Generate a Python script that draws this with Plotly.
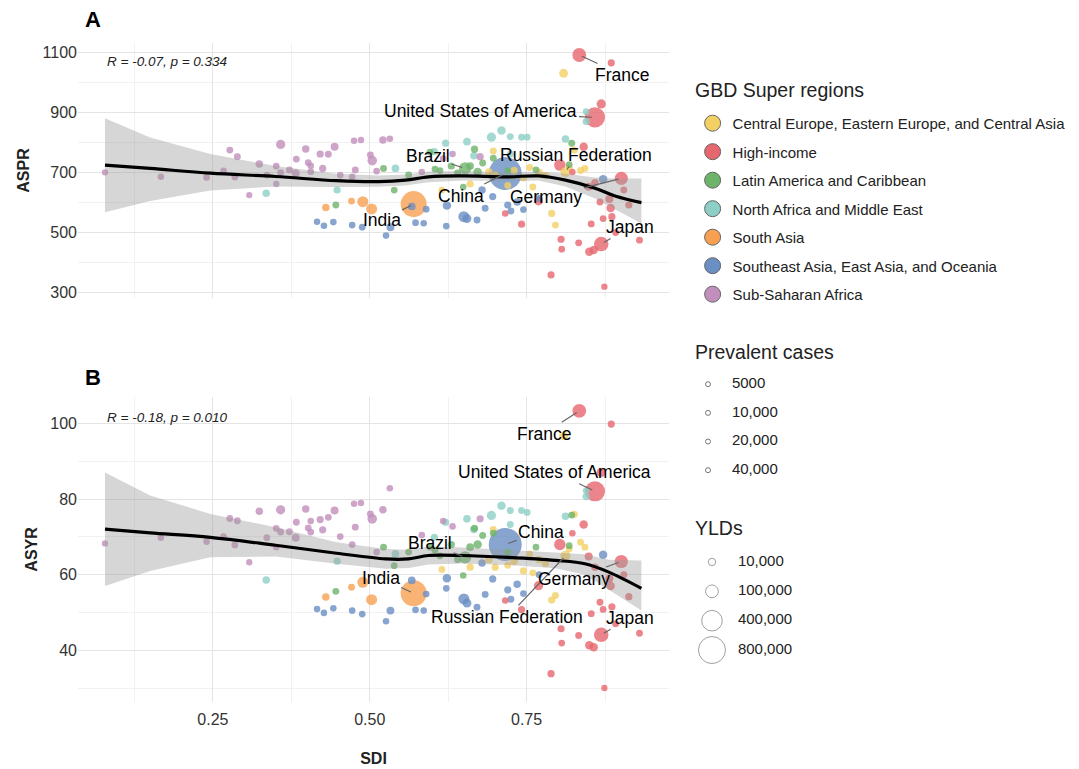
import numpy as np
import plotly.graph_objects as go

# ---------------- data ----------------
regions = ["Central Europe, Eastern Europe, and Central Asia", "High-income",
           "Latin America and Caribbean", "North Africa and Middle East",
           "South Asia", "Southeast Asia, East Asia, and Oceania", "Sub-Saharan Africa"]
region_colors = ["#F2D064", "#E7676E", "#6DB36A", "#8DCFC7", "#F7A052", "#6A8FC4", "#C28FBC"]

# Sub-Saharan Africa (6)
ss_sdi  = [0.078, 0.167, 0.240, 0.267, 0.285, 0.277, 0.289, 0.308, 0.324, 0.336, 0.351, 0.351, 0.358, 0.358,
           0.372, 0.382, 0.383, 0.398, 0.402, 0.406, 0.406, 0.421, 0.425, 0.434, 0.444, 0.453, 0.472, 0.475,
           0.477, 0.486, 0.501, 0.504, 0.511, 0.521, 0.532, 0.583, 0.617, 0.632, 0.676]
ss_aspr = [699, 684, 682, 704, 683, 773, 751, 623, 727, 690, 720, 660, 792, 698, 707, 696, 743, 777, 731, 721,
           701, 760, 712, 759, 784, 690, 684, 804, 707, 807, 757, 738, 703, 807, 811, 700, 745, 760, 751]
ss_asyr = [68.3, 69.8, 68.8, 70.1, 67.9, 74.9, 74.3, 63.3, 76.8, 69.8, 72.3, 67.3, 77.2, 71.3, 71.4, 69.8, 73.9,
           77.4, 72.4, 74.2, 71.3, 74.6, 71.9, 75.2, 77.0, 70.1, 68.0, 78.8, 72.6, 79.0, 76.1, 74.8, 66.0, 77.2,
           82.9, 70.5, 74.2, 72.8, 74.8]
ss_yld  = [3, 4, 5, 4, 5, 6, 6, 3, 10, 5, 5, 3, 30, 6, 6, 14, 6, 10, 5, 4, 5, 8, 8, 6, 14, 5, 5, 4, 6, 4, 6, 35,
           5, 10, 4, 4, 4, 4, 8]

# North Africa and Middle East (3)
na_sdi  = [0.335, 0.448, 0.541, 0.603, 0.621, 0.655, 0.666, 0.694, 0.710, 0.724, 0.742, 0.751, 0.724, 0.812, 0.845, 0.845]
na_aspr = [629, 640, 712, 768, 796, 801, 754, 816, 838, 818, 816, 816, 760, 810, 901, 868]
na_asyr = [58.6, 63.6, 65.5, 69.9, 73.9, 74.8, 72.0, 75.7, 78.3, 77.0, 77.0, 76.5, 73.3, 75.5, 82.3, 80.7]
na_yld  = [10, 8, 12, 8, 8, 12, 10, 30, 20, 6, 6, 5, 6, 10, 5, 8]

# Latin America and Caribbean (2)
la_sdi  = [0.446, 0.522, 0.539, 0.562, 0.596, 0.612, 0.630, 0.640, 0.652, 0.660, 0.667, 0.672, 0.649, 0.680,
           0.697, 0.765, 0.822, 0.818, 0.720, 0.604]
la_aspr = [590, 712, 640, 690, 766, 705, 720, 697, 712, 720, 776, 700, 650, 730, 746, 707, 796, 725, 705, 710]
la_asyr = [55.6, 67.3, 62.4, 66.0, 67.3, 65.0, 68.0, 64.0, 64.6, 67.3, 72.3, 68.0, 59.8, 70.4, 71.0, 67.3, 75.8,
           67.7, 66.0, 66.5]
la_yld  = [6, 6, 5, 6, 6, 5, 8, 6, 90, 12, 8, 20, 4, 6, 6, 5, 6, 5, 5, 5]

# South Asia (4)
sa_sdi  = [0.430, 0.471, 0.489, 0.503, 0.570]
sa_aspr = [582, 603, 601, 577, 593]
sa_asyr = [54.1, 56.7, 58.0, 53.4, 55.1]
sa_yld  = [10, 6, 60, 60, 730]

# Southeast Asia, East Asia, and Oceania (5)
se_sdi  = [0.416, 0.427, 0.442, 0.472, 0.488, 0.526, 0.533, 0.567, 0.573, 0.586, 0.590, 0.622, 0.623, 0.650,
           0.655, 0.671, 0.684, 0.696, 0.679, 0.716, 0.720, 0.725, 0.735, 0.745, 0.872, 0.770]
se_aspr = [534, 521, 533, 523, 516, 488, 516, 585, 531, 529, 576, 520, 588, 551, 545, 540, 579, 618, 640, 695,
           590, 570, 600, 575, 676, 612]
se_asyr = [50.9, 49.9, 51.1, 50.5, 49.6, 47.7, 50.5, 58.5, 50.7, 50.5, 54.9, 56.4, 59.1, 53.6, 52.5, 51.4, 54.8,
           58.9, 63.1, 68.0, 56.0, 53.5, 57.5, 55.0, 65.3, 60.0]
se_yld  = [4, 4, 4, 5, 5, 4, 14, 12, 5, 4, 5, 5, 20, 60, 25, 6, 6, 8, 10, 1300, 8, 6, 10, 5, 20, 5]

# High-income (1)
hi_sdi  = [0.834, 0.885, 0.869, 0.859, 0.841, 0.823, 0.803, 0.849, 0.859, 0.901, 0.882, 0.884, 0.913, 0.867,
           0.886, 0.872, 0.853, 0.805, 0.833, 0.806, 0.850, 0.857, 0.869, 0.930, 0.892, 0.789, 0.874, 0.769,
           0.742, 0.716, 0.905]
hi_aspr = [1090, 1064, 927, 882, 784, 700, 723, 651, 664, 679, 610, 580, 590, 600, 551, 545, 527, 476, 464, 443,
           434, 440, 460, 473, 498, 357, 318, 604, 526, 562, 640]
hi_asyr = [103.4, 99.9, 87.1, 82.1, 73.3, 71.0, 68.0, 64.8, 62.0, 63.5, 59.0, 57.0, 54.2, 52.7, 51.5, 50.8, 49.7,
           45.7, 43.9, 41.9, 41.3, 40.8, 44.1, 44.5, 47.0, 33.8, 30.0, 57.1, 50.8, 53.2, 60.0]
hi_yld  = [130, 8, 30, 380, 20, 4, 70, 15, 10, 110, 15, 20, 8, 6, 8, 5, 6, 8, 6, 5, 20, 20, 150, 6, 6, 8, 3, 30,
           8, 4, 6]

# Central Europe, Eastern Europe, and Central Asia (0)
ce_sdi  = [0.809, 0.826, 0.697, 0.615, 0.660, 0.690, 0.700, 0.730, 0.745, 0.755, 0.770, 0.780, 0.790, 0.796,
           0.812, 0.818, 0.836, 0.843, 0.760, 0.720]
ce_aspr = [1029, 773, 770, 640, 660, 700, 690, 705, 680, 715, 700, 688, 562, 523, 700, 715, 705, 712, 650, 655]
ce_asyr = [96.8, 76.0, 72.0, 61.4, 62.0, 64.0, 62.0, 63.5, 61.0, 65.5, 64.0, 63.0, 53.3, 54.5, 65.0, 66.9, 68.6,
           67.3, 60.5, 62.5]
ce_yld  = [25, 8, 6, 5, 8, 10, 8, 10, 8, 6, 8, 10, 8, 6, 45, 6, 6, 6, 6, 6]

# labelled countries
lab_names = ["France", "United States of America", "Brazil", "Russian Federation", "China",
             "Germany", "India", "Japan"]
lab_sdi   = [0.834, 0.859, 0.652, 0.812, 0.716, 0.901, 0.570, 0.869]
lab_aspr  = [1090, 882, 712, 700, 695, 679, 593, 460]
lab_asyr  = [103.4, 82.1, 64.6, 65.0, 68.0, 63.5, 55.1, 44.1]

# loess smooth with 95% CI
smA_x  = [0.078, 0.15, 0.246, 0.35, 0.447, 0.514, 0.557, 0.594, 0.647, 0.721, 0.769, 0.812, 0.859, 0.891, 0.933]
smA_y  = [723, 712, 696, 685, 671, 668, 673, 684, 687, 684, 687, 673, 646, 620, 598]
smA_lo = [566, 603, 638, 652, 650, 651, 655, 666, 672, 670, 672, 652, 612, 575, 528]
smA_hi = [879, 815, 760, 720, 694, 688, 692, 702, 703, 698, 702, 694, 682, 678, 678]
smB_x  = [0.078, 0.15, 0.246, 0.35, 0.447, 0.525, 0.562, 0.594, 0.647, 0.721, 0.796, 0.843, 0.881, 0.933]
smB_y  = [72.1, 71.1, 69.9, 67.8, 65.7, 64.2, 64.2, 65.1, 65.1, 64.6, 63.8, 62.9, 60.7, 56.4]
smB_lo = [57.0, 61.0, 64.6, 64.8, 62.9, 61.6, 61.8, 62.7, 63.0, 62.6, 61.7, 60.0, 56.0, 50.5]
smB_hi = [87.1, 81.0, 76.1, 72.6, 68.6, 66.8, 66.6, 67.5, 67.2, 66.6, 65.9, 65.4, 64.0, 63.8]

cor_text = ["R = -0.07, p = 0.334", "R = -0.18, p = 0.010"]
prev_labels = ["5000", "10,000", "20,000", "40,000"]
yld_labels = ["10,000", "100,000", "400,000", "800,000"]
yld_legend = [10, 100, 400, 800]   # thousands

# ---------------- assemble ----------------
groups = [(ce_sdi, ce_aspr, ce_asyr, ce_yld, 0), (hi_sdi, hi_aspr, hi_asyr, hi_yld, 1),
          (la_sdi, la_aspr, la_asyr, la_yld, 2), (na_sdi, na_aspr, na_asyr, na_yld, 3),
          (sa_sdi, sa_aspr, sa_asyr, sa_yld, 4), (se_sdi, se_aspr, se_asyr, se_yld, 5),
          (ss_sdi, ss_aspr, ss_asyr, ss_yld, 6)]
sdi, aspr, asyr, yld, reg = [], [], [], [], []
for s, a, b, y, r in groups:
    sdi += s; aspr += a; asyr += b; yld += y; reg += [r] * len(s)
sdi = np.array(sdi); aspr = np.array(aspr); asyr = np.array(asyr); yld = np.array(yld, float)
reg = np.array(reg)


def size_scale(v):
    return 5 + 22 * np.sqrt(np.asarray(v, float) / 800.0)


order = np.argsort(-yld, kind="stable")
col = np.array(region_colors)[reg]

FONT = "Liberation Sans, Arial, sans-serif"
fig = go.Figure()

for xa, ya, vals, sx, sy, slo, shi in [("x", "y", aspr, smA_x, smA_y, smA_lo, smA_hi),
                                       ("x2", "y2", asyr, smB_x, smB_y, smB_lo, smB_hi)]:
    fig.add_trace(go.Scatter(x=sdi[order], y=vals[order], mode="markers", xaxis=xa, yaxis=ya,
                             marker=dict(size=size_scale(yld[order]), color=col[order], opacity=0.8,
                                         line=dict(width=0)),
                             showlegend=False, hoverinfo="skip"))
    fig.add_trace(go.Scatter(x=sx, y=slo, mode="lines", line=dict(width=0), xaxis=xa, yaxis=ya,
                             showlegend=False, hoverinfo="skip"))
    fig.add_trace(go.Scatter(x=sx, y=shi, mode="lines", line=dict(width=0), fill="tonexty",
                             fillcolor="rgba(153,153,153,0.4)", xaxis=xa, yaxis=ya,
                             showlegend=False, hoverinfo="skip"))
    fig.add_trace(go.Scatter(x=sx, y=sy, mode="lines", line=dict(color="black", width=3.2, shape="spline"),
                             xaxis=xa, yaxis=ya, showlegend=False, hoverinfo="skip"))

# region legend
for i, r in enumerate(regions):
    fig.add_trace(go.Scatter(x=[None], y=[None], mode="markers", name=r, legendgroup=r,
                             marker=dict(size=16, color=region_colors[i], line=dict(color="#666666", width=1))))

# size legends on auxiliary axes
LEG_FS = 15
fig.add_trace(go.Scatter(x=[15] * 4, y=prev_labels, mode="markers", xaxis="x3", yaxis="y3",
                         marker=dict(size=5, color="white", line=dict(color="#555555", width=0.8)),
                         showlegend=False, hoverinfo="skip"))
fig.add_trace(go.Scatter(x=[39] * 4, y=prev_labels, mode="text", text=prev_labels, textposition="middle right",
                         textfont=dict(size=LEG_FS, color="#222", family=FONT), xaxis="x3", yaxis="y3",
                         showlegend=False, hoverinfo="skip"))
fig.add_trace(go.Scatter(x=[19] * 4, y=yld_labels, mode="markers", xaxis="x4", yaxis="y4",
                         marker=dict(size=size_scale(yld_legend), color="white",
                                     line=dict(color="#555555", width=0.8)),
                         showlegend=False, hoverinfo="skip"))
fig.add_trace(go.Scatter(x=[45] * 4, y=yld_labels, mode="text", text=yld_labels, textposition="middle right",
                         textfont=dict(size=LEG_FS, color="#222", family=FONT), xaxis="x4", yaxis="y4",
                         showlegend=False, hoverinfo="skip"))

# annotations
ann = []
offA = [(43, 20), (-114, -6), (-37, -12), (11, -17), (-44, 22), (-75, 19), (-32, 16), (29, -17)]
offB = [(-35, 23), (-40, -19), (-35, -14), (-58, 61), (36, -13), (-47, 17), (-33, -15), (29, -17)]
for i, n in enumerate(lab_names):
    for xr_, yr_, yv, (dx, dy) in [("x", "y", lab_aspr[i], offA[i]), ("x2", "y2", lab_asyr[i], offB[i])]:
        ann.append(dict(x=lab_sdi[i], y=yv, xref=xr_, yref=yr_, text=n, showarrow=True, ax=dx, ay=dy,
                        arrowhead=0, arrowwidth=1.2, arrowcolor="#666666", standoff=3,
                        font=dict(size=17.5, color="black", family=FONT)))
ann.append(dict(x=float(sdi.min()), y=1068, xref="x", yref="y", text="<i>" + cor_text[0] + "</i>",
                showarrow=False, xanchor="left", font=dict(size=13.5, color="#222", family=FONT)))
ann.append(dict(x=float(sdi.min()), y=101.7, xref="x2", yref="y2", text="<i>" + cor_text[1] + "</i>",
                showarrow=False, xanchor="left", font=dict(size=13.5, color="#222", family=FONT)))
ann.append(dict(x=0.005, y=1.035, xref="paper", yref="paper", text="<b>A</b>", showarrow=False,
                xanchor="left", yanchor="middle", font=dict(size=22, color="black", family=FONT)))
ann.append(dict(x=0.005, y=0.492, xref="paper", yref="paper", text="<b>B</b>", showarrow=False,
                xanchor="left", yanchor="middle", font=dict(size=22, color="black", family=FONT)))
for txt, yy in [("GBD Super regions", 0.929), ("Prevalent cases", 0.531), ("YLDs", 0.264)]:
    ann.append(dict(x=0.6144, y=yy, xref="paper", yref="paper", text=txt, showarrow=False,
                    xanchor="left", yanchor="middle", font=dict(size=19.5, color="#222", family=FONT)))

grid = dict(showgrid=True, gridcolor="#E4E4E4", gridwidth=1, zeroline=False, showline=False, ticks="",
            tickfont=dict(size=16, color="#333", family=FONT))
xr = [0.035, 0.977]
fig.update_layout(
    width=1071, height=761, paper_bgcolor="white", plot_bgcolor="white",
    margin=dict(l=70, r=0, t=35, b=67),
    font=dict(family=FONT, color="#222"),
    xaxis=dict(domain=[0, 0.5904], anchor="y", range=xr, tickmode="linear", tick0=0.25, dtick=0.25,
               showticklabels=False, minor=dict(showgrid=True, gridcolor="#F1F1F1", dtick=0.125, tick0=0.125),
               **grid),
    yaxis=dict(domain=[0.613, 1], anchor="x", range=[280, 1130], tickmode="linear", tick0=300, dtick=200,
               minor=dict(showgrid=True, gridcolor="#F1F1F1", dtick=100, tick0=300),
               title=dict(text="<b>ASPR</b>", standoff=8, font=dict(size=16, color="#222")), **grid),
    xaxis2=dict(domain=[0, 0.5904], anchor="y2", range=xr, tickmode="linear", tick0=0.25, dtick=0.25,
                tickformat=".2f", ticklabelstandoff=6,
                minor=dict(showgrid=True, gridcolor="#F1F1F1", dtick=0.125, tick0=0.125),
                title=dict(text="<b>SDI</b>", standoff=25, font=dict(size=16, color="#222")), **grid),
    yaxis2=dict(domain=[0, 0.463], anchor="x2", range=[26.3, 107.1], tickmode="linear", tick0=40, dtick=20,
                minor=dict(showgrid=True, gridcolor="#F1F1F1", dtick=10, tick0=30),
                title=dict(text="<b>ASYR</b>", standoff=8, font=dict(size=16, color="#222")), **grid),
    xaxis3=dict(domain=[0.6144, 0.75], anchor="y3", range=[0, 136], visible=False, fixedrange=True),
    yaxis3=dict(domain=[0.330, 0.504], anchor="x3", type="category", categoryorder="array",
                categoryarray=prev_labels, range=[3.5, -0.5], visible=False, fixedrange=True),
    xaxis4=dict(domain=[0.6144, 0.75], anchor="y4", range=[0, 136], visible=False, fixedrange=True),
    yaxis4=dict(domain=[0.0566, 0.2347], anchor="x4", type="category", categoryorder="array",
                categoryarray=yld_labels, range=[3.5, -0.5], visible=False, fixedrange=True),
    legend=dict(x=0.614, y=0.903, xanchor="left", yanchor="top", tracegroupgap=6,
                font=dict(size=LEG_FS, color="#222", family=FONT), itemsizing="trace",
                bgcolor="rgba(0,0,0,0)"),
    annotations=ann,
)
fig.write_html("out.html")
